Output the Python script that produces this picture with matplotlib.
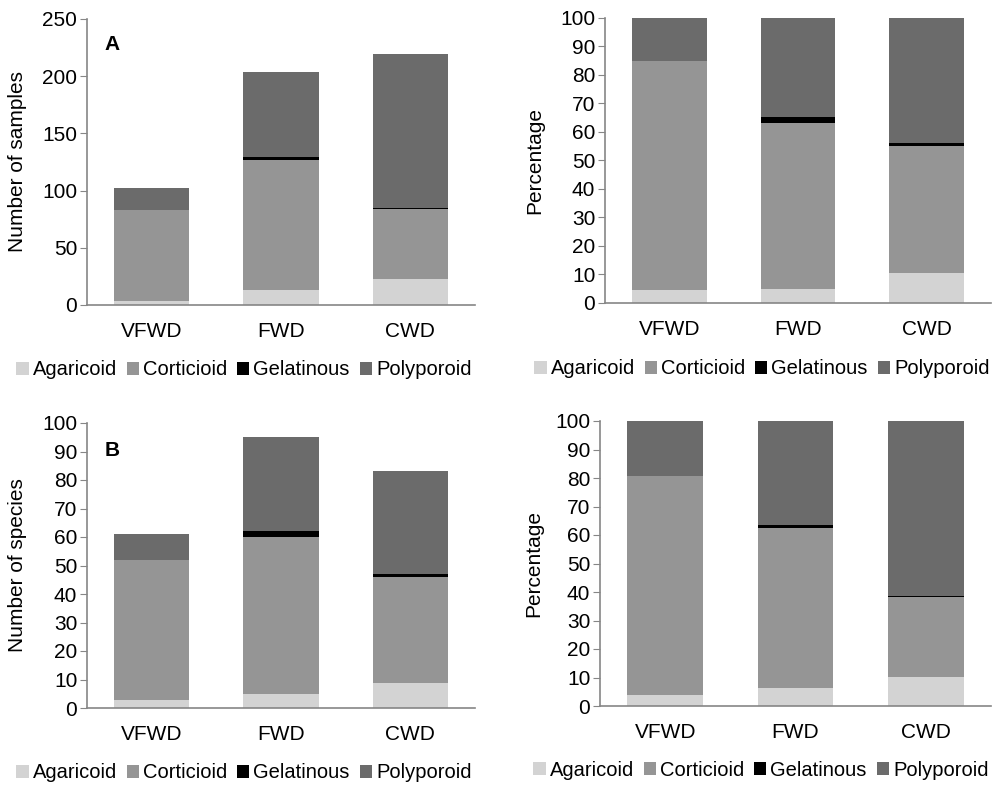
import numpy as np
import matplotlib.pyplot as plt
from matplotlib.patches import Patch

plt.rcParams['font.family'] = ['Liberation Sans', 'DejaVu Sans']

categories = ["VFWD", "FWD", "CWD"]
groups = ["Agaricoid", "Corticioid", "Gelatinous", "Polyporoid"]
colors = ["#d3d3d3", "#959595", "#000000", "#6b6b6b"]

# A: number of samples
samples = [[3.5, 13, 22.5], [79.5, 114, 61.5], [0, 2.3, 0.9], [19.5, 74, 134.5]]
samples_pct = [[4.7, 4.9, 10.5], [80.1, 58.1, 44.7], [0, 2.1, 0.9], [15.2, 34.9, 43.9]]
# B: number of species
species = [[2.9, 5, 8.8], [48.9, 55.1, 37.2], [0, 2, 1.1], [9.2, 32.9, 35.9]]
species_pct = [[3.9, 6.2, 10.3], [76.8, 56.3, 27.8], [0, 0.9, 0.6], [19.3, 36.6, 61.3]]

W, H = 992, 786
fig = plt.figure(figsize=(W / 100, H / 100), dpi=100)


def px_axes(left, right, top, bottom):
    return fig.add_axes([left / W, 1 - bottom / H, (right - left) / W, (bottom - top) / H])


def stacked(ax, data, ymax, step, ylabel):
    x = np.arange(len(categories))
    base = np.zeros(len(categories))
    for vals, c in zip(data, colors):
        vals = np.array(vals)
        ax.bar(x, vals, 0.58, bottom=base, color=c, edgecolor="none")
        base += vals
    ax.set_xlim(-0.5, 2.5)
    ax.set_ylim(0, ymax)
    ax.set_yticks(np.arange(0, ymax + 1, step))
    ax.set_xticks(x)
    ax.set_xticklabels(categories)
    ax.set_ylabel(ylabel, fontsize=15)
    for s in ("top", "right"):
        ax.spines[s].set_visible(False)
    for s in ("left", "bottom"):
        ax.spines[s].set_color("#868686")
        ax.spines[s].set_linewidth(1.2)
    ax.tick_params(axis="y", labelsize=15, length=5, color="#868686", pad=2)
    ax.tick_params(axis="x", labelsize=15, length=0, pad=12)


ax1 = px_axes(87, 475, 19, 305)
stacked(ax1, samples, 250, 50, "Number of samples")
ax1.yaxis.set_label_coords(-0.155, 0.5)
ax1.text(0.046, 0.91, "A", transform=ax1.transAxes, fontsize=15, fontweight="bold", va="center")

ax2 = px_axes(605, 991, 18, 303)
stacked(ax2, samples_pct, 100, 10, "Percentage")
ax2.yaxis.set_label_coords(-0.158, 0.5)

ax3 = px_axes(87, 475, 423, 708)
stacked(ax3, species, 100, 10, "Number of species")
ax3.yaxis.set_label_coords(-0.155, 0.5)
ax3.text(0.046, 0.905, "B", transform=ax3.transAxes, fontsize=15, fontweight="bold", va="center")

ax4 = px_axes(600, 991, 421, 706)
stacked(ax4, species_pct, 100, 10, "Percentage")
ax4.yaxis.set_label_coords(-0.146, 0.5)

handles = [Patch(facecolor=c, edgecolor="none") for c in colors]
for cx, cy in ((244, 370), (762, 369), (244, 773), (761, 770)):
    fig.legend(handles, groups, loc="center", bbox_to_anchor=(cx / W, 1 - cy / H),
               ncol=4, frameon=False, fontsize=14.5, handlelength=0.6, handleheight=0.6,
               handletextpad=0.2, columnspacing=0.5, borderpad=0)

fig.savefig("out.png", dpi=100)
